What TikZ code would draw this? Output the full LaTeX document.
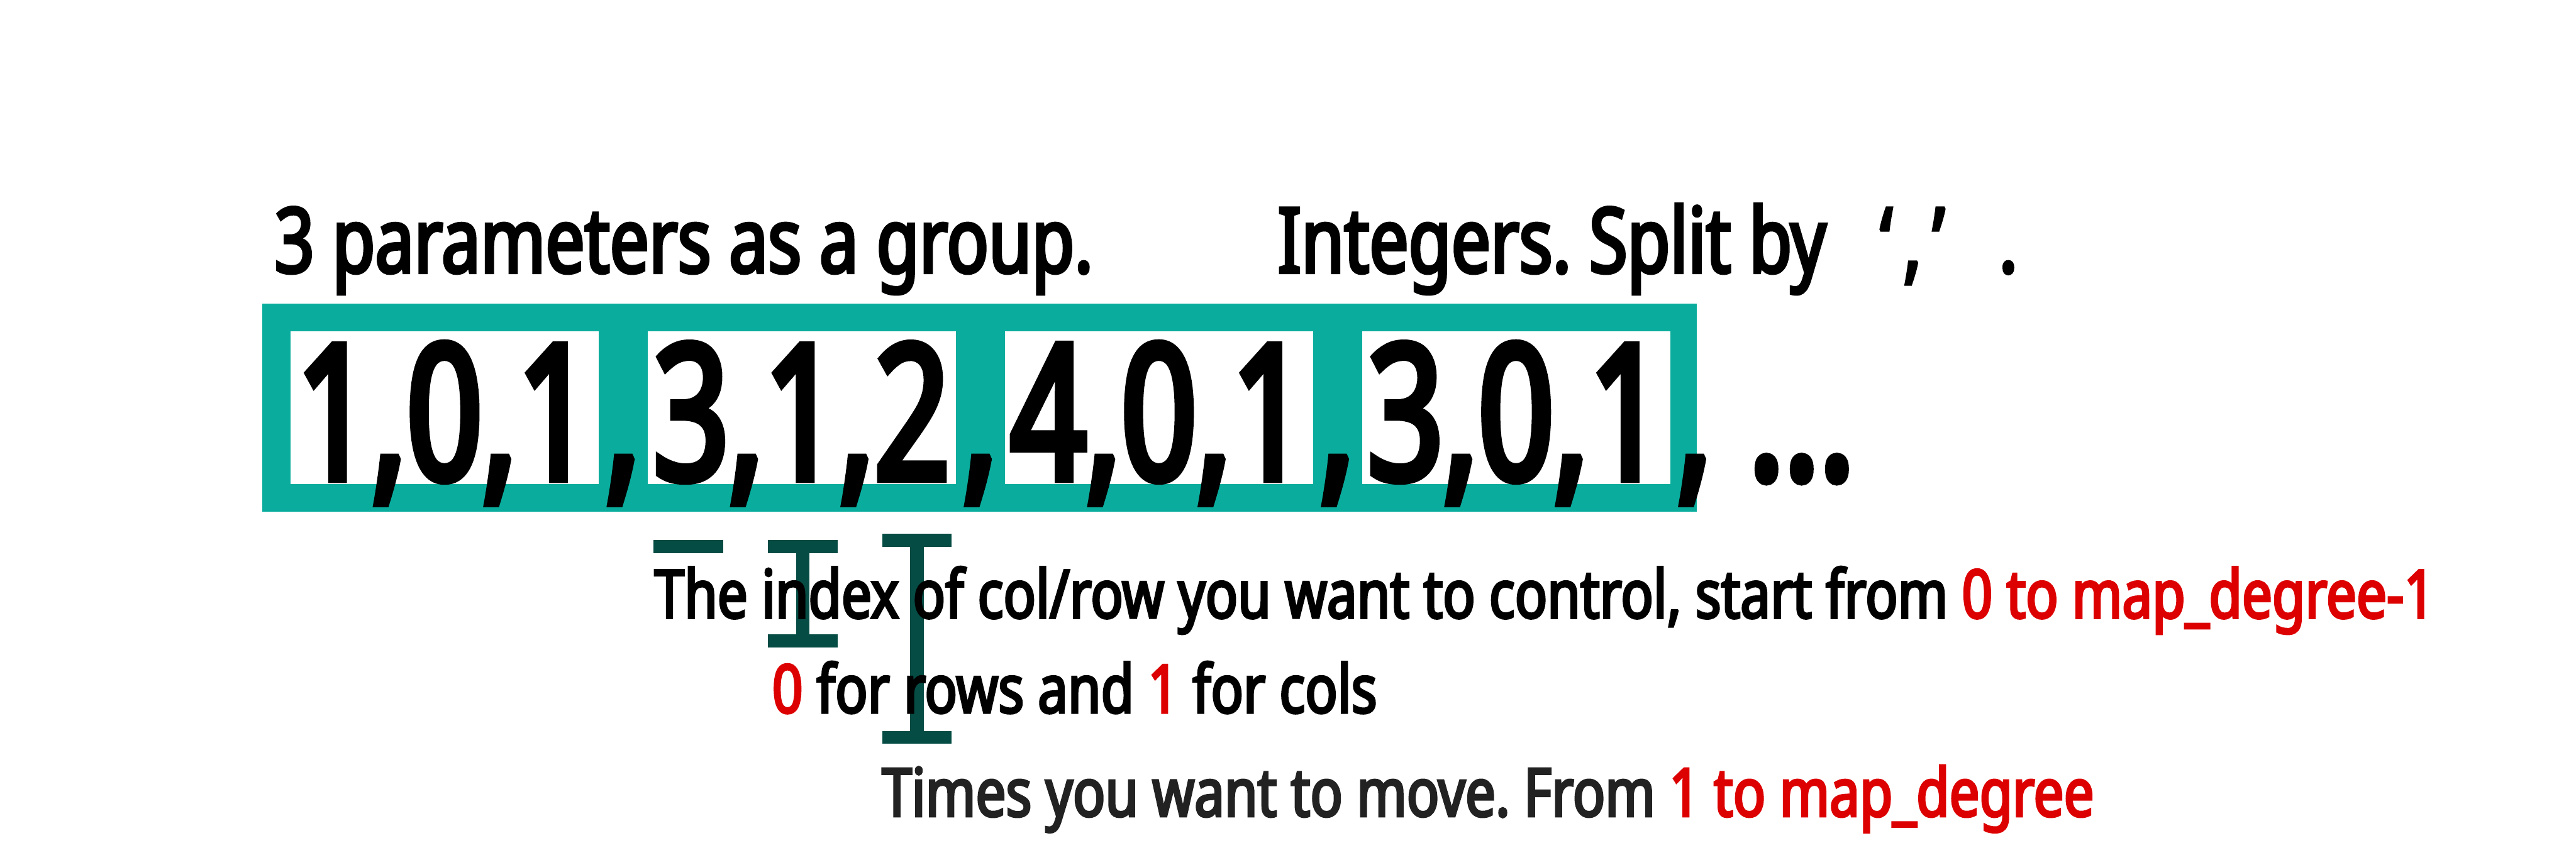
\documentclass[tikz,border=0pt]{standalone}
\usepackage{fontspec}
\setmainfont{Noto Sans}[FakeStretch=0.8, FakeBold=3.5]
\newfontfamily\numfont{Noto Sans}[FakeStretch=0.7, FakeBold=4]
\newfontfamily\headfont{Noto Sans}[FakeStretch=0.77, FakeBold=3.5]
\usetikzlibrary{positioning}
\definecolor{myteal}{RGB}{10,173,157}
\definecolor{mygreen}{RGB}{5,76,68}
\definecolor{myred}{RGB}{221,0,0}
\definecolor{mygray}{RGB}{34,34,34}
\frenchspacing

\tikzset{
  grpbox/.style={fill=white, minimum width=7.44cm, minimum height=3.69cm, inner sep=0pt},
  bignum/.style={inner sep=0pt, anchor=base, font=\numfont\fontsize{129}{130}\selectfont},
  headtxt/.style={inner sep=0pt, anchor=base west, font=\headfont\fontsize{62}{64}\selectfont},
  notetxt/.style={inner sep=0pt, anchor=base west, font=\fontsize{46}{48}\selectfont},
}

\begin{document}
\begin{tikzpicture}
  \useasboundingbox (0,0) rectangle (62.17,20.88);
  % Header
  \node[headtxt] (group) at (6.62,14.30) {3 parameters as a group.};
  \node[headtxt] (split) at (30.83,14.30) {Integers. Split by\hspace{0.6em}‘\hspace{0.12em},\hspace{0.12em}’\hspace{0.6em}.};
  % Parameter string
  \node[fill=myteal, minimum width=34.62cm, minimum height=5.03cm] (frame) at (23.64,11.035) {};
  \foreach \a/\b/\c [count=\i] in {1/0/1, 3/1/2, 4/0/1, 3/0/1} {
    \node[grpbox] (g\i) at (10.73+8.62*\i-8.62,11.035) {};
    \node[bignum] (n\i) at (10.73+8.62*\i-8.62,9.31) {\a,\b,\c};
    \node[bignum] (c\i) at (15.04+8.62*\i-8.62,9.31) {,};
  }
  \node[bignum, anchor=base west] (dots) at (42.2,9.31) {...};
  % Brackets
  \fill[mygreen] (15.77,7.52) rectangle (17.45,7.84);
  \fill[mygreen] (18.53,7.52) rectangle (20.21,7.84);
  \fill[mygreen] (19.21,5.40) rectangle (19.53,7.60);
  \fill[mygreen] (18.53,5.24) rectangle (20.21,5.56);
  \fill[mygreen] (21.29,7.68) rectangle (22.97,8.00);
  \fill[mygreen] (21.97,3.10) rectangle (22.29,7.80);
  \fill[mygreen] (21.29,2.92) rectangle (22.97,3.23);
  % Notes
  \node[notetxt] (index) at (15.79,5.96) {The index of col/row you want to control, start from \textcolor{myred}{0 to map\_degree-1}};
  \node[notetxt] (rowcol) at (18.63,3.67) {\textcolor{myred}{0} for rows and \textcolor{myred}{1} for cols};
  \node[notetxt, text=mygray] (times) at (21.28,1.17) {Times you want to move. From \textcolor{myred}{1 to map\_degree}};
\end{tikzpicture}
\end{document}
